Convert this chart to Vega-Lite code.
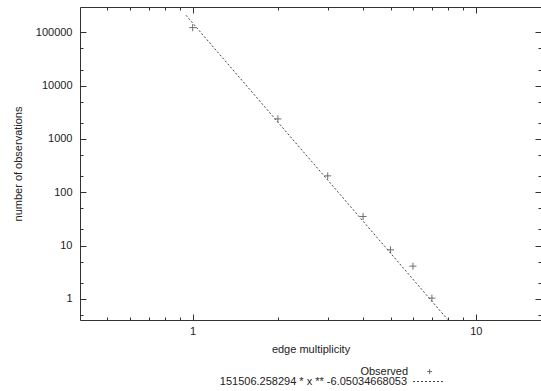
{
  "$schema": "https://vega.github.io/schema/vega-lite/v6.json",
  "width": 461,
  "height": 313,
  "autosize": {"type": "none"},
  "padding": {"left": 80, "top": 7, "right": 0, "bottom": 71},
  "background": "white",
  "config": {
    "view": {"stroke": null},
    "font": "Liberation Sans",
    "axis": {
      "domainColor": "#333",
      "domainWidth": 1,
      "grid": false,
      "tickColor": "#333",
      "tickWidth": 1,
      "labelFont": "Liberation Sans",
      "labelFontSize": 11,
      "labelColor": "#222",
      "titleFont": "Liberation Sans",
      "titleFontSize": 11,
      "titleFontWeight": "normal",
      "titleColor": "#222",
      "labelOverlap": false,
      "labelFlush": false
    },
    "legend": {
      "labelFont": "Liberation Sans",
      "labelFontSize": 11,
      "labelColor": "#222",
      "labelLimit": 400,
      "padding": 0
    }
  },
  "datasets": {
    "obs": [
      {"x": 1, "y": 123000, "series": "Observed"},
      {"x": 2, "y": 2380, "series": "Observed"},
      {"x": 3, "y": 203, "series": "Observed"},
      {"x": 4, "y": 35, "series": "Observed"},
      {"x": 5, "y": 8.3, "series": "Observed"},
      {"x": 6, "y": 4.1, "series": "Observed"},
      {"x": 7, "y": 1.03, "series": "Observed"}
    ],
    "fit": [
      {"x": 0.947, "y": 210000, "series": "151506.258294 * x ** -6.05034668053"},
      {"x": 7.95, "y": 0.41, "series": "151506.258294 * x ** -6.05034668053"}
    ]
  },
  "layer": [
    {
      "data": {"name": "obs"},
      "mark": {"type": "point", "filled": false, "strokeWidth": 1, "color": "#333", "size": 49, "clip": true},
      "encoding": {
        "x": {
          "field": "x",
          "type": "quantitative",
          "scale": {"type": "log", "domain": [0.4, 17], "nice": false},
          "axis": {
            "orient": "bottom",
            "domain": true,
            "ticks": false,
            "values": [1, 10],
            "format": "d",
            "labelBaseline": "alphabetic",
            "labelPadding": 14,
            "title": "edge multiplicity",
            "titleBaseline": "alphabetic",
            "titleY": 32
          }
        },
        "y": {
          "field": "y",
          "type": "quantitative",
          "scale": {"type": "log", "domain": [0.4, 300000], "nice": false},
          "axis": {
            "orient": "left",
            "domain": true,
            "ticks": false,
            "values": [1, 10, 100, 1000, 10000, 100000],
            "format": "d",
            "labelPadding": 8,
            "title": "number of observations",
            "titleBaseline": "alphabetic",
            "titleX": -58.5
          }
        },
        "shape": {
          "field": "series",
          "type": "nominal",
          "scale": {"domain": ["Observed"], "range": ["M-1,0H1M0,-1V1"]},
          "legend": {
            "orient": "none",
            "legendX": 344.1,
            "legendY": 359.1,
            "title": null,
            "symbolSize": 25,
            "symbolStrokeColor": "#333",
            "symbolStrokeWidth": 1,
            "labelAlign": "right",
            "labelOffset": -27
          }
        }
      }
    },
    {
      "data": {"name": "fit"},
      "mark": {"type": "line", "color": "#444", "strokeWidth": 1, "clip": true},
      "encoding": {
        "x": {
          "field": "x",
          "type": "quantitative",
          "scale": {"type": "log", "domain": [0.4, 17], "nice": false},
          "axis": {"orient": "top", "domain": true, "ticks": false, "labels": false, "title": null, "values": [1, 10]}
        },
        "y": {
          "field": "y",
          "type": "quantitative",
          "scale": {"type": "log", "domain": [0.4, 300000], "nice": false},
          "axis": {"orient": "right", "domain": true, "ticks": false, "labels": false, "title": null, "values": [1, 10]}
        },
        "strokeDash": {
          "field": "series",
          "type": "nominal",
          "scale": {"domain": ["151506.258294 * x ** -6.05034668053"], "range": [[2, 2]]},
          "legend": {
            "orient": "none",
            "legendX": 332.5,
            "legendY": 358.5,
            "title": null,
            "symbolType": "stroke",
            "symbolSize": 961,
            "symbolStrokeColor": "#444",
            "symbolStrokeWidth": 1,
            "labelAlign": "right",
            "labelOffset": -37.5
          }
        }
      }
    },
    {
      "data": {"name": "obs"},
      "mark": {"type": "point", "opacity": 0},
      "encoding": {
        "x": {
          "field": "x",
          "type": "quantitative",
          "scale": {"type": "log", "domain": [0.4, 17], "nice": false},
          "axis": {
            "orient": "bottom",
            "domain": false,
            "labels": false,
            "title": null,
            "offset": -6,
            "tickSize": 6,
            "values": [0.5, 0.6, 0.7, 0.8, 0.9, 1, 2, 3, 4, 5, 6, 7, 8, 9, 10],
            "tickDash": {"condition": {"test": "datum.value == 1 || datum.value == 10", "value": [6, 0]}, "value": [0, 3, 3, 10]}
          }
        },
        "y": {
          "field": "y",
          "type": "quantitative",
          "scale": {"type": "log", "domain": [0.4, 300000], "nice": false},
          "axis": {
            "orient": "left",
            "domain": false,
            "labels": false,
            "title": null,
            "offset": -6,
            "tickSize": 6,
            "values": [0.5, 1, 2, 5, 10, 20, 50, 100, 200, 500, 1000, 2000, 5000, 10000, 20000, 50000, 100000],
            "tickDash": {"condition": {"test": "indexof([1, 10, 100, 1000, 10000, 100000], datum.value) >= 0", "value": [6, 0]}, "value": [0, 3, 3, 10]}
          }
        }
      }
    },
    {
      "data": {"name": "obs"},
      "mark": {"type": "point", "opacity": 0},
      "encoding": {
        "x": {
          "field": "x",
          "type": "quantitative",
          "scale": {"type": "log", "domain": [0.4, 17], "nice": false},
          "axis": {
            "orient": "top",
            "domain": false,
            "labels": false,
            "title": null,
            "offset": -6,
            "tickSize": 6,
            "values": [0.5, 0.6, 0.7, 0.8, 0.9, 1, 2, 3, 4, 5, 6, 7, 8, 9, 10],
            "tickDash": {"condition": {"test": "datum.value == 1 || datum.value == 10", "value": [6, 0]}, "value": [0, 3, 3, 10]}
          }
        },
        "y": {
          "field": "y",
          "type": "quantitative",
          "scale": {"type": "log", "domain": [0.4, 300000], "nice": false},
          "axis": {
            "orient": "right",
            "domain": false,
            "labels": false,
            "title": null,
            "offset": -6,
            "tickSize": 6,
            "values": [0.5, 1, 2, 5, 10, 20, 50, 100, 200, 500, 1000, 2000, 5000, 10000, 20000, 50000, 100000],
            "tickDash": {"condition": {"test": "indexof([1, 10, 100, 1000, 10000, 100000], datum.value) >= 0", "value": [6, 0]}, "value": [0, 3, 3, 10]}
          }
        }
      }
    }
  ],
  "resolve": {"axis": {"x": "independent", "y": "independent"}}
}
